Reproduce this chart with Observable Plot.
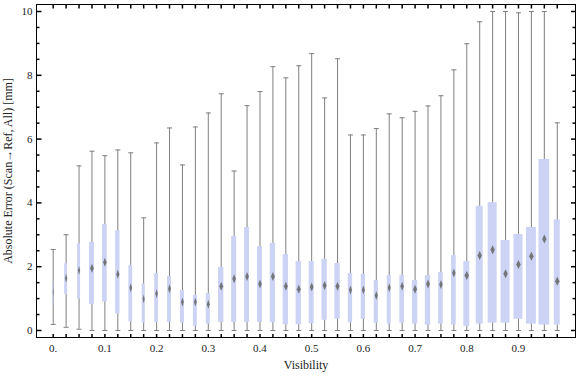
<!DOCTYPE html>
<html><head><meta charset="utf-8">
<script src="https://cdn.jsdelivr.net/npm/d3@7"></script>
<script src="https://cdn.jsdelivr.net/npm/@observablehq/plot@0.6"></script>
<style>body{margin:0;background:#fff;} #chart svg{display:block;}</style>
</head><body><div id="chart"></div>
<script>
// Bin centres (visibility)
const visibility = [0, 0.025, 0.05, 0.075, 0.1, 0.125, 0.15, 0.175, 0.2, 0.225,
  0.25, 0.275, 0.3, 0.325, 0.35, 0.375, 0.4, 0.425, 0.45, 0.475,
  0.5, 0.525, 0.55, 0.575, 0.6, 0.625, 0.65, 0.675, 0.7, 0.725,
  0.75, 0.775, 0.8, 0.825, 0.85, 0.875, 0.9, 0.925, 0.95, 0.975];
const lowerWhisker = [0.19, 0.1, 0.04, 0, 0, 0, 0, 0, 0, 0,
  0, 0, 0, 0, 0, 0, 0, 0, 0, 0,
  0, 0, 0, 0, 0, 0, 0, 0, 0, 0,
  0, 0, 0, 0, 0, 0, 0, 0, 0, 0];
const q1 = [0.77, 1.13, 0.99, 0.82, 0.89, 0.52, 0.28, 0.23, 0.25, 0.25,
  0.23, 0.13, 0.2, 0.25, 0.25, 0.25, 0.25, 0.25, 0.18, 0.18,
  0.21, 0.32, 0.35, 0.24, 0.35, 0.23, 0.2, 0.23, 0.2, 0.17,
  0.2, 0.17, 0.13, 0.2, 0.23, 0.23, 0.35, 0.2, 0.17, 0.17];
const median = [1.2, 1.64, 1.88, 1.95, 2.14, 1.76, 1.34, 0.99, 1.15, 1.31,
  0.89, 0.89, 0.82, 1.39, 1.62, 1.69, 1.46, 1.69, 1.39, 1.29,
  1.36, 1.41, 1.39, 1.27, 1.27, 1.1, 1.34, 1.39, 1.29, 1.46,
  1.44, 1.8, 1.72, 2.35, 2.53, 1.78, 2.07, 2.33, 2.87, 1.54];
const q3 = [1.51, 2.09, 2.72, 2.76, 3.32, 3.13, 2.04, 1.46, 1.79, 1.69,
  1.25, 1.1, 1.16, 1.98, 2.95, 3.23, 2.63, 2.73, 2.38, 2.16,
  2.16, 2.23, 2.1, 1.79, 1.76, 1.57, 1.72, 1.72, 1.57, 1.72,
  1.82, 2.35, 2.16, 3.89, 4.01, 2.82, 3.01, 3.23, 5.36, 3.47];
const upperWhisker = [2.54, 3.0, 5.16, 5.62, 5.48, 5.66, 5.57, 3.53, 5.88, 6.35,
  5.19, 6.38, 6.82, 7.42, 5.0, 7.05, 7.49, 8.27, 7.92, 8.3,
  8.68, 7.29, 8.52, 6.13, 6.13, 6.33, 6.79, 6.67, 6.87, 7.04,
  7.36, 8.17, 8.99, 9.68, 10, 10, 9.96, 10, 10, 6.51];
// Box width in visibility units (varies per bin)
const boxWidth = [0.002, 0.0058, 0.0058, 0.0097, 0.0091, 0.0083, 0.0072, 0.0058, 0.0072, 0.0077,
  0.0077, 0.0077, 0.0077, 0.0103, 0.0097, 0.0097, 0.0097, 0.0103, 0.0103, 0.0103,
  0.0097, 0.0103, 0.0103, 0.0083, 0.0083, 0.0083, 0.0077, 0.0091, 0.0103, 0.0103,
  0.0091, 0.0091, 0.0116, 0.0135, 0.0174, 0.0174, 0.0174, 0.0193, 0.0207, 0.0116];

const xTickValues = [0, 0.1, 0.2, 0.3, 0.4, 0.5, 0.6, 0.7, 0.8, 0.9];
const xTickLabels = ["0.", "0.1", "0.2", "0.3", "0.4", "0.5", "0.6", "0.7", "0.8", "0.9"];
const yTickValues = [0, 2, 4, 6, 8, 10];
const yTickLabels = ["0", "2", "4", "6", "8", "10"];
const yMinorTicks = [0.5, 1, 1.5, 2.5, 3, 3.5, 4.5, 5, 5.5, 6.5, 7, 7.5, 8.5, 9, 9.5];
const xLabel = "Visibility";
const yLabel = "Absolute Error (Scan\u2192Ref, All) [mm]";

const data = visibility.map((v, i) => ({
  v, lo: lowerWhisker[i], q1: q1[i], med: median[i], q3: q3[i], hi: upperWhisker[i], w: boxWidth[i]
}));

const xDomain = [-0.0323, 1.0103];
const yDomain = [-0.22, 10.22];

const sym = (f) => ({draw(ctx, size) { f(ctx, size); }});
const capSym = sym(c => { c.moveTo(-2.5, 0); c.lineTo(2.5, 0); });
const diamondSym = sym((c, size) => {
  const hw = Math.sqrt(size / Math.PI);
  c.moveTo(0, -4.5); c.lineTo(hw, 0); c.lineTo(0, 4.5); c.lineTo(-hw, 0); c.closePath();
});
const tickUp = sym(c => { c.moveTo(0, 0); c.lineTo(0, -3.5); });
const tickDown = sym(c => { c.moveTo(0, 0); c.lineTo(0, 4); });
const tickRightMaj = sym(c => { c.moveTo(0, 0); c.lineTo(5, 0); });
const tickRightMin = sym(c => { c.moveTo(0, 0); c.lineTo(3, 0); });
const tickLeftMaj = sym(c => { c.moveTo(0, 0); c.lineTo(-4.5, 0); });
const tickLeftMin = sym(c => { c.moveTo(0, 0); c.lineTo(-3, 0); });

const chart = Plot.plot({
  width: 576, height: 377,
  marginLeft: 36, marginRight: 1, marginTop: 4, marginBottom: 40,
  style: {fontFamily: "'Liberation Serif', serif", fontSize: "11px", color: "#222", background: "#fff"},
  x: {domain: xDomain, axis: null},
  y: {domain: yDomain, axis: null},
  r: {type: "linear", domain: [0, 0.0116], range: [0, 2.2], clamp: true},
  marks: [
    Plot.ruleX(data, {x: "v", y1: "lo", y2: "hi", stroke: "#7f7f7f", strokeWidth: 1}),
    Plot.dot(data, {x: "v", y: "hi", symbol: capSym, stroke: "#7f7f7f", fill: "none", strokeWidth: 1}),
    Plot.dot(data, {x: "v", y: "lo", symbol: capSym, stroke: "#7f7f7f", fill: "none", strokeWidth: 1}),
    Plot.rect(data, {x1: d => d.v - d.w / 2, x2: d => d.v + d.w / 2, y1: "q1", y2: "q3", fill: "#cdd3f4"}),
    Plot.dot(data, {x: "v", y: "med", r: "w", symbol: diamondSym, fill: "#6a6a6a", stroke: "none", fillOpacity: 0.9, ariaLabel: "median"}),
    // frame ticks
    Plot.dot(visibility, {x: d => d, y: yDomain[0], symbol: tickUp, stroke: "black", fill: "none"}),
    Plot.dot(visibility, {x: d => d, y: yDomain[1], symbol: tickDown, stroke: "black", fill: "none"}),
    Plot.dot(yTickValues, {x: xDomain[0], y: d => d, symbol: tickRightMaj, stroke: "black", fill: "none"}),
    Plot.dot(yMinorTicks, {x: xDomain[0], y: d => d, symbol: tickRightMin, stroke: "black", fill: "none"}),
    Plot.dot(yTickValues, {x: xDomain[1], y: d => d, symbol: tickLeftMaj, stroke: "black", fill: "none"}),
    Plot.dot(yMinorTicks, {x: xDomain[1], y: d => d, symbol: tickLeftMin, stroke: "black", fill: "none"}),
    Plot.frame({stroke: "black", strokeWidth: 1}),
    // tick labels
    Plot.text(xTickValues, {x: d => d, y: yDomain[0], text: (d, i) => xTickLabels[i], dy: 11, fill: "#222"}),
    Plot.text(yTickValues, {x: xDomain[0], y: d => d, text: (d, i) => yTickLabels[i], textAnchor: "end", dx: -4, fill: "#222"}),
    // axis labels
    Plot.text([xLabel], {frameAnchor: "bottom", dy: 31, fontSize: 12, fill: "#222"}),
    Plot.text([yLabel], {frameAnchor: "left", textAnchor: "middle", rotate: -90, dx: -28, fontSize: 12, fill: "#222"})
  ]
});
// soft blur on median markers
const svg = d3.select(chart);
svg.append("defs").append("filter").attr("id", "medblur")
  .append("feGaussianBlur").attr("stdDeviation", 0.5);
svg.selectAll("g[aria-label='median']").attr("filter", "url(#medblur)");
document.getElementById("chart").appendChild(chart);
</script>
</body></html>
